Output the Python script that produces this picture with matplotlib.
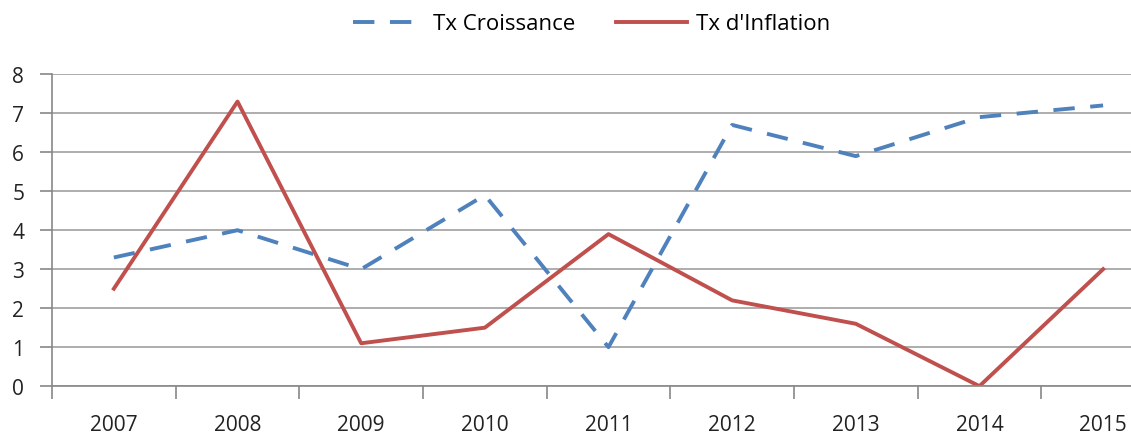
import matplotlib.pyplot as plt

years = ['2007', '2008', '2009', '2010', '2011', '2012', '2013', '2014', '2015']
croissance = [3.3, 4.0, 3.0, 4.9, 1.0, 6.7, 5.9, 6.9, 7.2]
inflation = [2.5, 7.3, 1.1, 1.5, 3.9, 2.2, 1.6, 0.0, 3.0]

plt.rcParams['font.family'] = ['Open Sans', 'DejaVu Sans']

fig = plt.figure(figsize=(11.31, 4.35), dpi=100)
# plot area runs past the right edge of the picture, like the original
ax = fig.add_axes([0.046, 0.110, 0.984, 0.717])

x = list(range(len(years)))
ax.plot(x, croissance, color='#4F81BD', lw=2.8, ls=(0, (5.5, 4)), label='Tx Croissance')
ax.plot(x, inflation, color='#C0504D', lw=2.8, label="Tx d'Inflation")

ax.set_xlim(-0.5, len(years) - 0.5)
ax.set_ylim(0, 8)
ax.set_yticks(range(0, 9))
ax.grid(axis='y', color='#A0A0A0', lw=1.2)
ax.set_axisbelow(True)

# category labels centred, tick marks at boundaries
ax.set_xticks(x)
ax.set_xticklabels(years)
ax.set_xticks([i - 0.5 for i in range(len(years) + 1)], minor=True)
ax.tick_params(axis='x', which='major', length=0, pad=20, labelsize=15, labelcolor='#222222')
ax.tick_params(axis='x', which='minor', length=9, color='#888888', width=1.2)
ax.tick_params(axis='y', length=9, color='#888888', width=1.2, labelsize=15, pad=11, labelcolor='#222222')

for s in ['top', 'right']:
    ax.spines[s].set_visible(False)
for s in ['left', 'bottom']:
    ax.spines[s].set_color('#888888')
    ax.spines[s].set_linewidth(1.2)

fig.legend(loc='center', bbox_to_anchor=(0.523, 0.943), ncol=2, frameon=False,
           fontsize=16, handlelength=3.2, columnspacing=1.8, handletextpad=0.4)

fig.savefig('out.png', dpi=100)
